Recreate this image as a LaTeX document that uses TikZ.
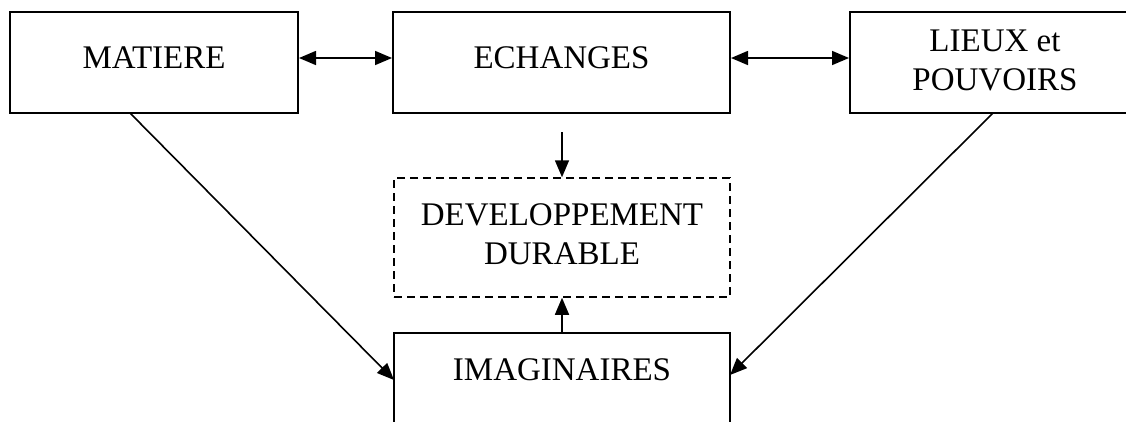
\documentclass[tikz,border=0pt]{standalone}
\usepackage{fontspec}
\setmainfont{Liberation Serif}
\usetikzlibrary{arrows.meta}
\begin{document}
\begin{tikzpicture}[x=1pt,y=-1pt,
  box/.style={draw, line width=2pt, inner sep=0pt},
  dbox/.style={draw, line width=1.5pt, dash pattern=on 8pt off 5pt, inner sep=0pt},
  lbl/.style={font=\fontsize{33}{39}\selectfont, align=center, inner sep=0pt},
  tip/.style={},
  conn/.style={line width=1.6pt, -{Triangle[length=17pt,width=14pt]}},
  dconn/.style={line width=1.6pt, {Triangle[length=17pt,width=14pt]}-{Triangle[length=17pt,width=14pt]}}]
\useasboundingbox (0,0) rectangle (1126,421);
\clip (0,0) rectangle (1126,421);
% boxes
\node[box, minimum width=288pt, minimum height=101pt] (mat) at (154,62.5) {};
\node[box, minimum width=337pt, minimum height=101pt] (ech) at (561.5,62.5) {};
\node[box, minimum width=290pt, minimum height=101pt] (lie) at (995,62.5) {};
\node[dbox, minimum width=336pt, minimum height=119pt] (dev) at (562,237.5) {};
\node[box, minimum width=336pt, minimum height=120pt, anchor=north] (ima) at (562,332) {};
% texts
\node[lbl] (tmat) at (154,57.5) {MATIERE};
\node[lbl] (tech) at (561.5,57.5) {ECHANGES};
\node[lbl] (tlie) at (995,60) {LIEUX et\\POUVOIRS};
\node[lbl] (tdev) at (562,234) {DEVELOPPEMENT\\DURABLE};
\node[lbl] (tima) at (562,370) {IMAGINAIRES};
% connector endpoints
\coordinate (echdown) at (562,132);
\coordinate (matout) at (130,113);
\coordinate (lieout) at (993,113);
\coordinate (imaL) at (394,380);
\coordinate (imaR) at (730,375);
% connectors
\draw[dconn] ([yshift=4.5pt]mat.east) -- ([yshift=4.5pt]ech.west);
\draw[dconn] ([yshift=4.5pt]ech.east) -- ([yshift=4.5pt]lie.west);
\draw[conn] (echdown) -- (dev.north);
\draw[conn] (ima.north) -- (dev.south);
\draw[conn] (matout) -- (imaL);
\draw[conn] (lieout) -- (imaR);
\end{tikzpicture}
\end{document}
